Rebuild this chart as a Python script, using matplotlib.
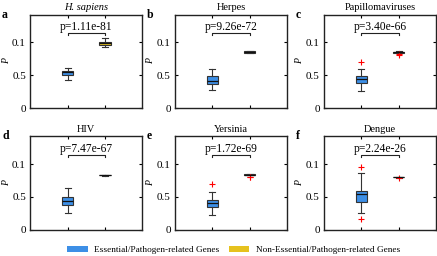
import matplotlib.pyplot as plt
from matplotlib.patches import Patch

plt.rcParams['font.family'] = ['Liberation Serif', 'DejaVu Serif']

letters = ['a', 'b', 'c', 'd', 'e', 'f']
titles = ['H. sapiens', 'Herpes', 'Papillomaviruses', 'HIV', 'Yersinia', 'Dengue']
pvals = ['p=1.11e-81', 'p=9.26e-72', 'p=3.40e-66', 'p=7.47e-67', 'p=1.72e-69', 'p=2.24e-26']

# box stats: whislo, q1, med, q3, whishi, outliers
ess_stats = [
    [0.042, 0.050, 0.054, 0.057, 0.061, []],
    [0.028, 0.036, 0.041, 0.0485, 0.060, []],
    [0.026, 0.038, 0.0434, 0.049, 0.060, [0.0697]],
    [0.026, 0.038, 0.0445, 0.0505, 0.0635, []],
    [0.023, 0.035, 0.041, 0.046, 0.058, [0.070]],
    [0.025, 0.043, 0.054, 0.0595, 0.086, [0.096, 0.016]],
]
non_stats = [
    [0.0935, 0.0965, 0.099, 0.101, 0.107, []],
    [0.0835, 0.0840, 0.0850, 0.0860, 0.0865, []],
    [0.0830, 0.0838, 0.0846, 0.0855, 0.0862, [0.0805, 0.0815]],
    [0.0825, 0.0829, 0.0833, 0.0837, 0.0841, []],
    [0.0830, 0.0835, 0.0841, 0.0846, 0.0850, [0.0800, 0.0810]],
    [0.0795, 0.0799, 0.0803, 0.0807, 0.0810, [0.0795]],
]

blue = '#3d8fe6'
yellow = '#e6c21e'
edge = '#333333'

fig = plt.figure(figsize=(4.37, 2.56), dpi=100)
lefts = [0.069, 0.400, 0.741]
bottoms = [0.578, 0.102]
w, h = 0.257, 0.365

def stat(s, label):
    return dict(whislo=s[0], q1=s[1], med=s[2], q3=s[3], whishi=s[4], fliers=s[5], label=label)

for i in range(6):
    r, c = divmod(i, 3)
    ax = fig.add_axes([lefts[c], bottoms[r], w, h])
    stats = [stat(ess_stats[i], ''), stat(non_stats[i], '')]
    bp = ax.bxp(stats, positions=[1, 2], widths=0.3, patch_artist=True,
                boxprops=dict(edgecolor=edge, linewidth=0.8),
                medianprops=dict(color='#111111', linewidth=0.9),
                whiskerprops=dict(color=edge, linewidth=0.8),
                capprops=dict(color=edge, linewidth=0.8),
                flierprops=dict(marker='+', markeredgecolor='red', markersize=5, markeredgewidth=0.8))
    bp['boxes'][0].set_facecolor(blue)
    bp['boxes'][1].set_facecolor(yellow)
    for cap in bp['caps']:
        x = cap.get_xdata()
        m = (x[0] + x[1]) / 2
        cap.set_xdata([m - 0.08, m + 0.08])
    ax.set_xlim(0, 3)
    ax.set_ylim(0, 0.142)
    ax.set_xticks([1, 2])
    ax.set_xticklabels(['', ''])
    ax.set_yticks([0, 0.05, 0.1])
    ax.set_yticklabels(['0', '0.5', '0.1'])
    ax.tick_params(direction='in', length=2.5, width=0.8, labelsize=8, top=True, right=True, pad=3)
    for sp in ax.spines.values():
        sp.set_linewidth(1.0)
        sp.set_color('#222222')
    ax.set_ylabel('P', fontstyle='italic', fontsize=7, labelpad=1)
    style = 'italic' if i == 0 else 'normal'
    ax.set_title(titles[i], fontsize=7.5, fontstyle=style, pad=3)
    ax.text(-0.25, 1.0, letters[i], transform=ax.transAxes, fontsize=8.5, fontweight='bold', va='center')
    ax.plot([1, 1, 2, 2], [0.1115, 0.1135, 0.1135, 0.1115], color='#222222', linewidth=0.8)
    ax.text(1.5, 0.1145, pvals[i], ha='center', va='bottom', fontsize=8.3)

handles = [Patch(facecolor=blue, label='Essential/Pathogen-related Genes'),
           Patch(facecolor=yellow, label='Non-Essential/Pathogen-related Genes')]
fig.legend(handles=handles, loc='lower center', ncol=2, frameon=False, fontsize=6.7,
           bbox_to_anchor=(0.535, -0.025), handlelength=2.2, handleheight=0.6,
           handletextpad=0.7, columnspacing=1.0)

fig.savefig('out.png', dpi=100)
